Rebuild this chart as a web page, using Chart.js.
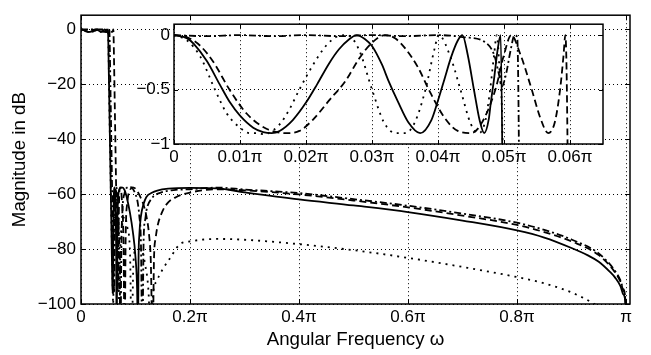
<!DOCTYPE html>
<html><head><meta charset="utf-8">
<script src="https://cdn.jsdelivr.net/npm/chart.js@4/dist/chart.umd.min.js"></script>
<style>
body{margin:0;background:#fff}
#wrap{position:relative;width:651px;height:355px;background:#fff}
canvas{position:absolute}
</style></head>
<body><div id="wrap">
<canvas id="main" width="651" height="355" style="left:0;top:0"></canvas>
<canvas id="inset" width="490" height="160" style="left:120px;top:10px"></canvas>
</div>
<script>
// ---- tick values & labels ----
const mainXTicks = [0, 0.2, 0.4, 0.6, 0.8, 1];
const mainXLabels = ['0', '0.2π', '0.4π', '0.6π', '0.8π', 'π'];
const mainYTicks = [-100, -80, -60, -40, -20, 0];
const mainYLabels = ['−100', '−80', '−60', '−40', '−20', '0'];
const insetXTicks = [0, 0.01, 0.02, 0.03, 0.04, 0.05, 0.06];
const insetXLabels = ['0', '0.01π', '0.02π', '0.03π', '0.04π', '0.05π', '0.06π'];
const insetYTicks = [-1, -0.5, 0];
const insetYLabels = ['−1', '−0.5', '0'];

// ---- passband (frequency in units of π, magnitude in dB) ----
const solidPassW = [0, 0.002, 0.003, 0.005, 0.0069, 0.0085, 0.010, 0.012, 0.0135, 0.0148, 0.016, 0.018, 0.020, 0.0217, 0.0235, 0.025, 0.0265, 0.0277, 0.029, 0.030, 0.0315, 0.0325, 0.034, 0.0355, 0.0373, 0.039, 0.040, 0.041, 0.042, 0.043, 0.0437, 0.0445, 0.0455, 0.0463, 0.047, 0.0477, 0.048, 0.0485, 0.049, 0.0495];
const solidPassDb = [0, -0.03, -0.08, -0.24, -0.45, -0.62, -0.74, -0.85, -0.89, -0.9, -0.88, -0.78, -0.62, -0.45, -0.26, -0.13, -0.04, 0, -0.04, -0.1, -0.27, -0.42, -0.62, -0.8, -0.9, -0.78, -0.6, -0.4, -0.2, -0.05, 0, -0.18, -0.52, -0.78, -0.9, -0.77, -0.62, -0.4, -0.15, 0];

const dashPassW = [0, 0.002, 0.004, 0.006, 0.0084, 0.011, 0.014, 0.017, 0.019, 0.021, 0.0235, 0.026, 0.028, 0.030, 0.032, 0.0335, 0.035, 0.037, 0.0386, 0.041, 0.043, 0.045, 0.0465, 0.0487, 0.050, 0.0511, 0.0525, 0.0542, 0.0555, 0.0567, 0.0577, 0.0585, 0.059, 0.0593];
const dashPassDb = [0, -0.02, -0.1, -0.25, -0.5, -0.72, -0.86, -0.9, -0.88, -0.78, -0.6, -0.42, -0.22, -0.07, 0, -0.03, -0.12, -0.3, -0.5, -0.76, -0.88, -0.9, -0.82, -0.5, -0.18, 0, -0.18, -0.5, -0.76, -0.9, -0.8, -0.5, -0.2, 0];

const dashDotPassW = [0, 0.005, 0.01, 0.015, 0.02, 0.025, 0.03, 0.035, 0.04, 0.044, 0.047, 0.0485, 0.0492, 0.0497, 0.0503, 0.051, 0.0516, 0.052];
const dashDotPassDb = [0, -0.01, 0, -0.01, 0, -0.01, 0, -0.01, 0, -0.02, -0.06, -0.18, -0.35, -0.47, -0.36, -0.14, 0, -0.02];

const dotPassW = [0, 0.002, 0.004, 0.0062, 0.008, 0.010, 0.0115, 0.0128, 0.0135, 0.0143, 0.016, 0.0175, 0.019, 0.021, 0.023, 0.0245, 0.0262, 0.028, 0.030, 0.0318, 0.0336, 0.0351, 0.0365, 0.0381, 0.0395, 0.0401, 0.042, 0.0434, 0.045, 0.0462, 0.0472, 0.0479, 0.0485, 0.0489];
const dotPassDb = [0, -0.05, -0.2, -0.5, -0.72, -0.85, -0.9, -0.9, -0.91, -0.9, -0.82, -0.68, -0.5, -0.28, -0.1, -0.02, 0, -0.13, -0.5, -0.8, -0.9, -0.9, -0.8, -0.5, -0.12, 0, -0.22, -0.5, -0.82, -0.9, -0.78, -0.5, -0.18, 0];

// ---- transition / stopband ----
const solidStopW = [0.0498, 0.050, 0.052, 0.054, 0.056, 0.0575, 0.0583, 0.0595, 0.0605, 0.0615, 0.063, 0.0645, 0.0655, 0.0665, 0.068, 0.071, 0.075, 0.08, 0.085, 0.09, 0.095, 0.1, 0.103, 0.1046, 0.1055, 0.107, 0.11, 0.115, 0.12, 0.13, 0.14, 0.16, 0.2, 0.25, 0.3, 0.4, 0.5, 0.6, 0.7, 0.8, 0.85, 0.9, 0.93, 0.95, 0.97, 0.98, 0.99, 0.995, 0.999, 1.0];
const solidStopDb = [-1.5, -3.5, -27, -51, -75, -93, -96, -70, -59, -57.5, -62, -80, -115, -75, -62, -58, -57.5, -58.5, -62, -67, -73.5, -83, -95, -115, -85, -75, -68, -63.5, -61, -59.5, -58.7, -58, -57.7, -57.9, -59.3, -61.9, -64.1, -66.5, -69.6, -73.2, -75.8, -79.6, -82.3, -84.6, -88.2, -90.4, -93.6, -96.5, -100, -120];

const dashStopW = [0.0597, 0.0605, 0.062, 0.064, 0.066, 0.0678, 0.069, 0.0705, 0.072, 0.075, 0.078, 0.08, 0.082, 0.085, 0.09, 0.095, 0.1, 0.105, 0.11, 0.115, 0.12, 0.125, 0.128, 0.1315, 0.134, 0.137, 0.14, 0.15, 0.16, 0.175, 0.2, 0.25, 0.3, 0.4, 0.5, 0.6, 0.7, 0.8, 0.85, 0.9, 0.95, 0.98, 0.99, 0.995, 0.999, 1.0];
const dashStopDb = [-1.5, -10, -28, -52, -76, -95, -72, -59, -57.5, -62, -78, -115, -75, -63, -58.5, -57.5, -58, -59.5, -61.5, -64, -68, -75, -84, -115, -83, -76, -72, -66, -63, -61, -59.4, -58.2, -58.6, -60.1, -62.3, -64.8, -67.8, -71.2, -73.8, -77.2, -82.2, -88.5, -92, -95, -99.5, -120];

const dashDotStopW = [0.0526, 0.054, 0.056, 0.058, 0.060, 0.0607, 0.062, 0.063, 0.0645, 0.066, 0.068, 0.0705, 0.0725, 0.074, 0.076, 0.08, 0.085, 0.09, 0.095, 0.1, 0.104, 0.107, 0.11, 0.1125, 0.115, 0.118, 0.12, 0.13, 0.145, 0.17, 0.2, 0.25, 0.3, 0.4, 0.5, 0.6, 0.7, 0.8, 0.85, 0.9, 0.95, 0.98, 0.99, 0.995, 0.999, 1.0];
const dashDotStopDb = [-4, -21, -45, -69, -91, -96, -72, -60, -57.3, -59, -66, -82, -115, -80, -66, -59.5, -57.5, -57.3, -58, -60, -63, -68, -78, -115, -76, -69, -66, -61.5, -59.5, -58.5, -58.2, -57.6, -58.3, -59.6, -61.8, -64.2, -67.1, -70.4, -73, -76.5, -81.6, -88, -91.5, -94.5, -99.5, -120];

const dotStopW = [0.0493, 0.0499, 0.052, 0.054, 0.056, 0.058, 0.059, 0.0605, 0.062, 0.064, 0.066, 0.069, 0.0705, 0.072, 0.075, 0.08, 0.085, 0.09, 0.093, 0.096, 0.1, 0.11, 0.118, 0.124, 0.128, 0.132, 0.139, 0.151, 0.163, 0.181, 0.2, 0.25, 0.3, 0.35, 0.4, 0.5, 0.6, 0.7, 0.8, 0.85, 0.9, 0.94, 0.97, 1.0];
const dotStopDb = [-0.3, -1.5, -28, -50, -72, -92, -100, -75, -63, -59, -62, -80, -115, -82, -72, -68, -72, -82, -115, -86, -80.5, -80, -86, -96, -115, -97, -91.6, -87, -83.4, -78.3, -77.2, -76.3, -76.6, -77.3, -78.2, -80.4, -83.2, -86.5, -90.2, -92.5, -95.8, -99.8, -104, -110];

// ---- helpers ----
const pts = (ws, ds) => ws.map((w, i) => ({ x: w, y: ds[i] }));
const FONT = "'Liberation Sans', Arial, Helvetica, sans-serif";
Chart.defaults.font.family = FONT;
Chart.defaults.color = '#000';

const styles = {
  solid: [],
  dash: [7, 4],
  dashDot: [7, 3, 2, 3],
  dot: [2, 5]
};

function mkSets(list) {
  return list.map(([data, dash]) => ({
    data, borderColor: '#000', borderWidth: 1.8, borderDash: dash,
    pointRadius: 0, cubicInterpolationMode: 'monotone', fill: false
  }));
}

const framePlugin = {
  id: 'frame',
  beforeDraw(chart, args, opts) {
    if (opts.fill) {
      const a = chart.chartArea, c = chart.ctx;
      c.save(); c.fillStyle = '#fff';
      c.fillRect(a.left, a.top, a.right - a.left, a.bottom - a.top);
      c.restore();
    }
  },
  afterDatasetsDraw(chart, args, opts) {
    const c = chart.ctx, a = chart.chartArea, xs = chart.scales.x, ys = chart.scales.y;
    const L = opts.len;
    c.save();
    c.setLineDash([]);
    c.strokeStyle = '#000';
    c.lineWidth = 1;
    c.beginPath();
    opts.xt.forEach(v => {
      const px = Math.round(xs.getPixelForValue(v)) + 0.5;
      c.moveTo(px, a.bottom); c.lineTo(px, a.bottom - L);
      c.moveTo(px, a.top); c.lineTo(px, a.top + L);
    });
    opts.yt.forEach(v => {
      const py = Math.round(ys.getPixelForValue(v)) + 0.5;
      c.moveTo(a.left, py); c.lineTo(a.left + L, py);
      c.moveTo(a.right, py); c.lineTo(a.right - L, py);
    });
    c.stroke();
    c.lineWidth = 1.5;
    c.strokeRect(a.left, a.top, a.right - a.left, a.bottom - a.top);
    c.restore();
  }
};

function scaleOpts(ticksArr, labels, min, max, size, pad, fitKey, fitVal, title) {
  const o = {
    type: 'linear', min, max,
    afterBuildTicks: s => { s.ticks = ticksArr.map(v => ({ value: v })); },
    afterFit: s => { s[fitKey] = fitVal; },
    ticks: { callback: (v, i) => labels[i], font: { size, family: FONT }, padding: pad, color: '#000', maxRotation: 0, autoSkip: false },
    grid: { color: '#000', lineWidth: 1, drawTicks: false },
    border: { display: false, dash: [1, 3] }
  };
  if (title) o.title = title;
  return o;
}

new Chart(document.getElementById('main'), {
  type: 'line',
  data: {
    datasets: mkSets([
      [pts(solidPassW.concat(solidStopW), solidPassDb.concat(solidStopDb)), styles.solid],
      [pts(dashPassW.concat(dashStopW), dashPassDb.concat(dashStopDb)), styles.dash],
      [pts(dashDotPassW.concat(dashDotStopW), dashDotPassDb.concat(dashDotStopDb)), styles.dashDot],
      [pts(dotPassW.concat(dotStopW), dotPassDb.concat(dotStopDb)), styles.dot]
    ])
  },
  options: {
    responsive: false, animation: false, devicePixelRatio: 1,
    layout: { padding: { top: 3, right: 21, left: 0, bottom: 0 } },
    plugins: { legend: { display: false }, tooltip: { enabled: false },
      frame: { len: 5, xt: mainXTicks, yt: mainYTicks, fill: false } },
    scales: {
      x: scaleOpts(mainXTicks, mainXLabels, 0, 1.0073, 17, 3, 'height', 51,
        { display: true, text: 'Angular Frequency ω', font: { size: 18.7, family: FONT }, color: '#000', padding: { top: 0, bottom: 4 } }),
      y: scaleOpts(mainYTicks, mainYLabels, -100, 5.2, 17, 5, 'width', 81,
        { display: true, text: 'Magnitude in dB', font: { size: 18.7, family: FONT }, color: '#000', padding: { top: 8.5, bottom: 0 } })
    }
  },
  plugins: [framePlugin]
});

new Chart(document.getElementById('inset'), {
  type: 'line',
  data: {
    datasets: mkSets([
      [pts(solidPassW.concat(solidStopW.slice(0, 6)), solidPassDb.concat(solidStopDb.slice(0, 6))), styles.solid],
      [pts(dashPassW.concat(dashStopW.slice(0, 4)), dashPassDb.concat(dashStopDb.slice(0, 4))), styles.dash],
      [pts(dashDotPassW.concat(dashDotStopW.slice(0, 4)), dashDotPassDb.concat(dashDotStopDb.slice(0, 4))), styles.dashDot],
      [pts(dotPassW.concat(dotStopW.slice(0, 4)), dotPassDb.concat(dotStopDb.slice(0, 4))), styles.dot]
    ])
  },
  options: {
    responsive: false, animation: false, devicePixelRatio: 1,
    layout: { padding: { top: 6, right: 7, left: 0, bottom: 0 } },
    plugins: { legend: { display: false }, tooltip: { enabled: false },
      frame: { len: 4, xt: insetXTicks, yt: insetYTicks, fill: true } },
    scales: {
      x: scaleOpts(insetXTicks, insetXLabels, 0, 0.065, 17, 3, 'height', 26),
      y: scaleOpts(insetYTicks, insetYLabels, -1, 0.1, 17, 4, 'width', 54)
    }
  },
  plugins: [framePlugin]
});
</script>
</body></html>
